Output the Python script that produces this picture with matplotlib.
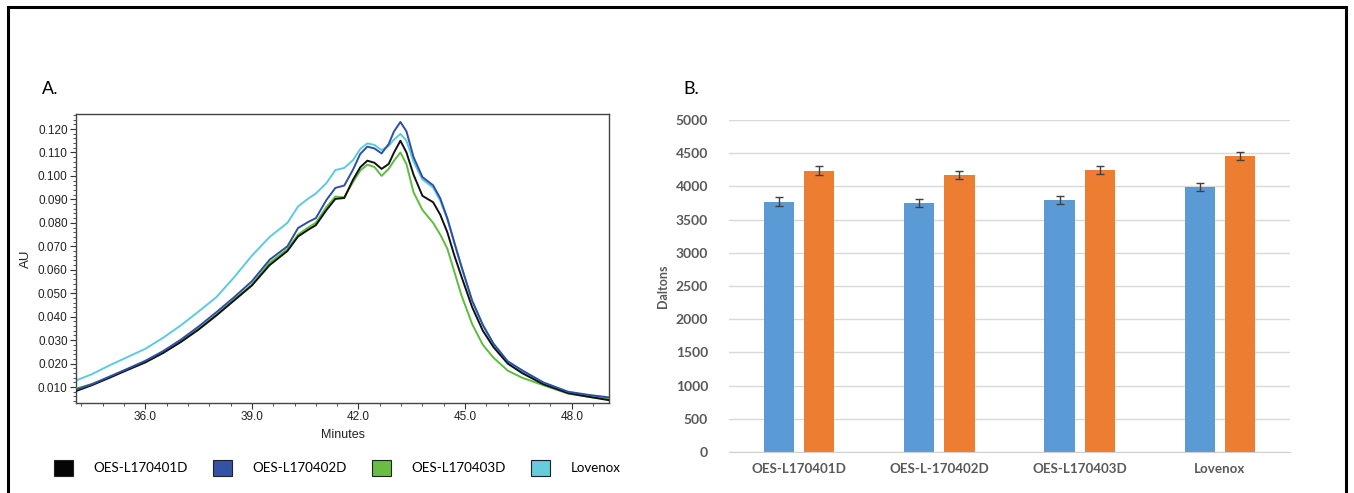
import matplotlib
matplotlib.use('Agg')
import matplotlib.pyplot as plt
from matplotlib.patches import Patch, Rectangle
from matplotlib.ticker import MultipleLocator, FormatStrFormatter
import numpy as np

# chromatogram (panel A)
minutes = [34.05, 34.5, 35.0, 35.5, 36.0, 36.5, 37.0, 37.5, 38.0, 38.5, 39.0, 39.5,
           40.0, 40.3, 40.6, 40.8, 41.1, 41.35, 41.6, 41.85, 42.05, 42.25, 42.45,
           42.65, 42.85, 43.0, 43.18, 43.35, 43.55, 43.8, 44.1, 44.3, 44.5, 44.7,
           44.9, 45.2, 45.5, 45.8, 46.2, 46.6, 47.2, 47.9, 48.5, 49.05]

au_401 = [0.0083, 0.0108, 0.0140, 0.0173, 0.0205, 0.0245, 0.0292, 0.0345, 0.0405, 0.0469,
          0.0533, 0.0620, 0.0680, 0.0742, 0.0772, 0.0790, 0.0855, 0.0902, 0.0906, 0.0985,
          0.1037, 0.1065, 0.1056, 0.1030, 0.1051, 0.1100, 0.1150, 0.1100, 0.1005, 0.0915,
          0.0888, 0.0835, 0.0760, 0.0660, 0.0570, 0.0440, 0.0340, 0.0270, 0.0200, 0.0160,
          0.0112, 0.0074, 0.0058, 0.0044]

au_402 = [0.0089, 0.0112, 0.0145, 0.0178, 0.0212, 0.0253, 0.0302, 0.0358, 0.0419, 0.0483,
          0.0551, 0.0643, 0.0700, 0.0778, 0.0805, 0.0820, 0.0898, 0.0949, 0.0959, 0.1028,
          0.1094, 0.1125, 0.1117, 0.1096, 0.1136, 0.1190, 0.1230, 0.1190, 0.1080, 0.0995,
          0.0960, 0.0905, 0.0820, 0.0715, 0.0613, 0.0468, 0.0365, 0.0285, 0.0210, 0.0172,
          0.0120, 0.0080, 0.0066, 0.0056]

au_403 = [0.0093, 0.0113, 0.0143, 0.0175, 0.0207, 0.0247, 0.0294, 0.0348, 0.0408, 0.0473,
          0.0537, 0.0630, 0.0688, 0.0750, 0.0782, 0.0800, 0.0868, 0.0912, 0.0909, 0.0975,
          0.1023, 0.1048, 0.1038, 0.1000, 0.1030, 0.1065, 0.1100, 0.1050, 0.0930, 0.0855,
          0.0800, 0.0750, 0.0690, 0.0590, 0.0490, 0.0368, 0.0280, 0.0225, 0.0170, 0.0140,
          0.0108, 0.0072, 0.0058, 0.0048]

au_lovenox = [0.0128, 0.0155, 0.0193, 0.0228, 0.0263, 0.0310, 0.0363, 0.0422, 0.0483, 0.0568,
              0.0660, 0.0740, 0.0800, 0.0870, 0.0905, 0.0925, 0.0970, 0.1025, 0.1034, 0.1068,
              0.1115, 0.1139, 0.1132, 0.1110, 0.1128, 0.1155, 0.1179, 0.1150, 0.1060, 0.0985,
              0.0950, 0.0895, 0.0815, 0.0712, 0.0610, 0.0466, 0.0362, 0.0282, 0.0205, 0.0168,
              0.0116, 0.0077, 0.0062, 0.0052]

series_names = ['OES-L170401D', 'OES-L170402D', 'OES-L170403D', 'Lovenox']

# molecular weight bars (panel B)
bar_labels = ['OES-L170401D', 'OES-L-170402D', 'OES-L170403D', 'Lovenox']
blue_vals = [3771, 3746, 3796, 3997]
blue_err = [63, 63, 58, 60]
orange_vals = [4238, 4172, 4248, 4458]
orange_err = [65, 65, 65, 65]

line_colors = ['#111111', '#2f4fa5', '#5dbd3c', '#5ccae0']
legend_colors = ['#050505', '#3353a5', '#69bd45', '#66cbdc']

W, H = 1354, 493
fig = plt.figure(figsize=(W / 100, H / 100), dpi=100)

# outer frame
fig.patches.append(Rectangle((8 / W, -0.02), (1346 - 8) / W, 1 - 7 / H + 0.02,
                             transform=fig.transFigure, fill=False,
                             edgecolor='black', linewidth=2.2, zorder=0))

narrow = ['Liberation Sans Narrow', 'Liberation Sans', 'DejaVu Sans']

# ---- panel A ----
axA = fig.add_axes([76 / W, 1 - 403 / H, 533 / W, 289 / H])
all_au = [au_401, au_402, au_403, au_lovenox]
for z, i in enumerate([3, 2, 0, 1]):
    axA.plot(minutes, all_au[i], color=line_colors[i], linewidth=1.4, zorder=2 + z,
             solid_joinstyle='round')

axA.set_xlim(34.05, 49.05)
axA.set_ylim(0.0032, 0.1264)
axA.xaxis.set_major_locator(MultipleLocator(3.0))
axA.xaxis.set_minor_locator(MultipleLocator(0.6))
axA.xaxis.set_major_formatter(FormatStrFormatter('%.1f'))
axA.yaxis.set_major_locator(MultipleLocator(0.01))
axA.yaxis.set_minor_locator(MultipleLocator(0.002))
axA.yaxis.set_major_formatter(FormatStrFormatter('%.3f'))
axA.tick_params(axis='both', which='major', length=4, width=0.8, color='#333333',
                labelsize=8.5, labelcolor='#222222', pad=2)
axA.tick_params(axis='both', which='minor', length=2, width=0.6, color='#333333')
for lab in axA.get_xticklabels() + axA.get_yticklabels():
    lab.set_family(narrow)
for s in axA.spines.values():
    s.set_color('#444444')
    s.set_linewidth(1.0)
axA.set_xlabel('Minutes', family=narrow, fontsize=9, color='#222222', labelpad=4)
axA.set_ylabel('AU', family=narrow, fontsize=9.5, color='#222222', labelpad=4)

fig.text(42 / W, 1 - 89 / H, 'A.', fontsize=13, family='Liberation Sans', va='center')

handles = [Patch(facecolor=legend_colors[i], edgecolor='#222222', linewidth=0.8)
           for i in range(4)]
fig.legend(handles, series_names, loc='center left', bbox_to_anchor=(42 / W, 1 - 468 / H),
           ncol=4, frameon=False, handlelength=1.45, handleheight=1.45,
           handletextpad=1.5, columnspacing=1.9,
           prop={'family': ['Lato', 'DejaVu Sans'], 'size': 9.6})

# ---- panel B ----
axB = fig.add_axes([729 / W, 1 - 452 / H, 561 / W, 332 / H])
x = np.arange(len(bar_labels))
bw = 0.215
off = 0.143
axB.bar(x - off, blue_vals, bw, color='#5b9bd5', zorder=2,
        yerr=blue_err, error_kw=dict(ecolor='#404040', elinewidth=1, capsize=3, capthick=1))
axB.bar(x + off, orange_vals, bw, color='#ed7d31', zorder=2,
        yerr=orange_err, error_kw=dict(ecolor='#404040', elinewidth=1, capsize=3, capthick=1))
axB.set_xlim(-0.5, len(bar_labels) - 0.5)
axB.set_ylim(0, 5000)
axB.set_yticks(range(0, 5001, 500))
axB.set_xticks(x)
axB.set_xticklabels(bar_labels)
axB.grid(axis='y', color='#d9d9d9', linewidth=1, zorder=0)
axB.set_axisbelow(True)
for side in ['top', 'right', 'left']:
    axB.spines[side].set_visible(False)
axB.spines['bottom'].set_color('#d0d0d0')
axB.tick_params(axis='both', length=0, labelcolor='#595959')
axB.tick_params(axis='y', pad=15, labelsize=10)
axB.tick_params(axis='x', pad=8, labelsize=9.6)
for lab in axB.get_xticklabels() + axB.get_yticklabels():
    lab.set_family(['Lato', 'DejaVu Sans'])
    lab.set_fontweight('bold')
axB.set_ylabel('Daltons', family=['Lato', 'DejaVu Sans'], fontweight='bold',
               fontsize=9, color='#595959', labelpad=5)

fig.text(683 / W, 1 - 89 / H, 'B.', fontsize=13, family=['Lato', 'DejaVu Sans'], va='center')

fig.savefig('out.png', dpi=100)
